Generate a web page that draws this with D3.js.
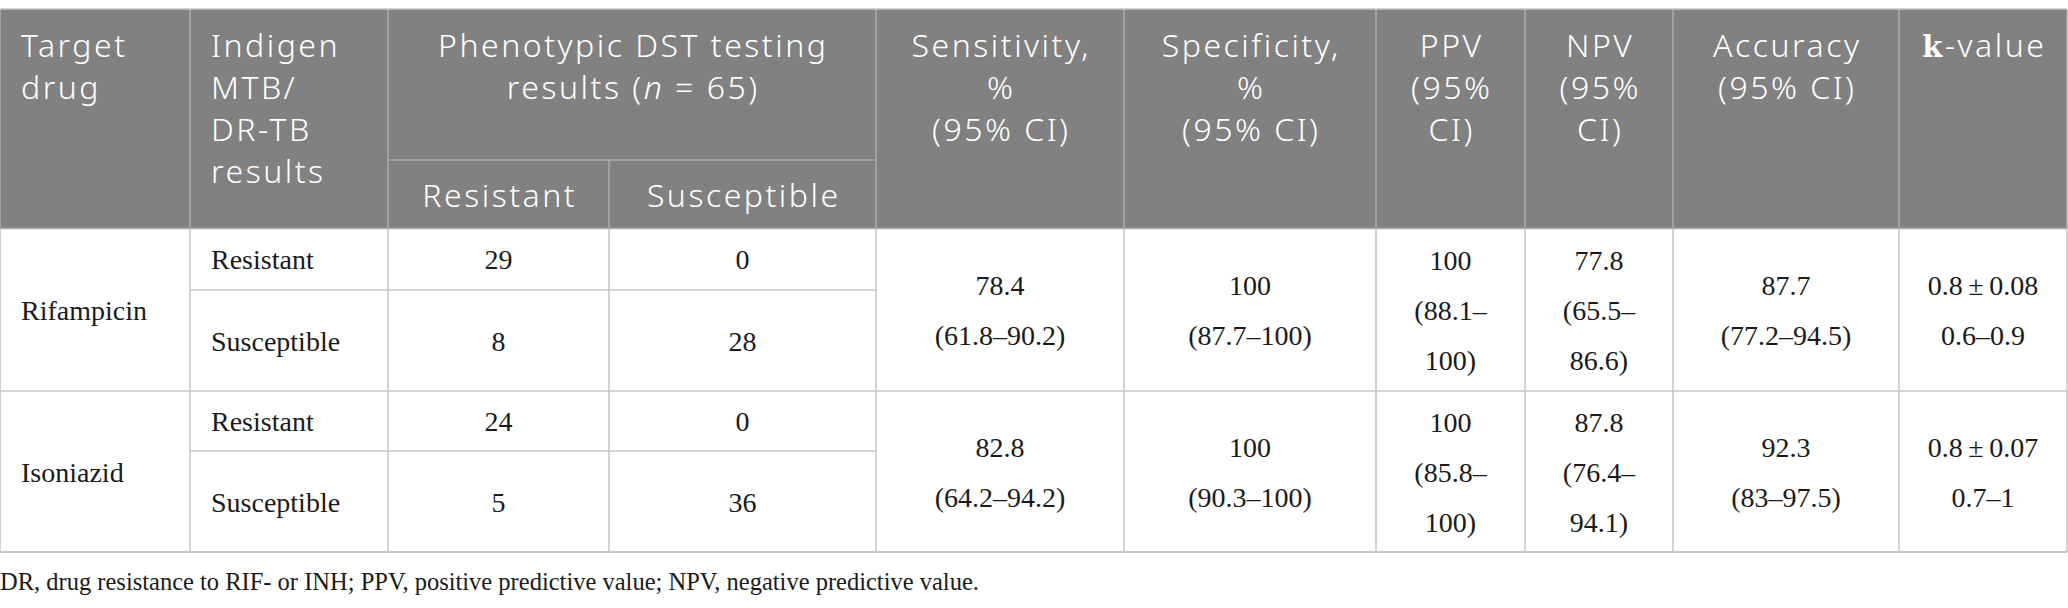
<!DOCTYPE html>
<html>
<head>
<meta charset="utf-8">
<script src="https://cdn.jsdelivr.net/npm/d3@7"></script>
<style>
  html, body { margin: 0; padding: 0; background: #fff; }
  svg { display: block; }
</style>
</head>
<body>
<svg id="chart"></svg>
<script>
// table content
const drugs = ["Rifampicin", "Isoniazid"];
const indigenResults = ["Resistant", "Susceptible"];
const dstResistant = [[29, 8], [24, 5]];
const dstSusceptible = [[0, 28], [0, 36]];
const sensitivity = ["78.4", "82.8"];
const sensitivityCI = ["61.8–90.2", "64.2–94.2"];
const specificity = ["100", "100"];
const specificityCI = ["87.7–100", "90.3–100"];
const ppv = ["100", "100"];
const ppvCI = ["88.1–100", "85.8–100"];
const npv = ["77.8", "87.8"];
const npvCI = ["65.5–86.6", "76.4–94.1"];
const accuracy = ["87.7", "92.3"];
const accuracyCI = ["77.2–94.5", "83–97.5"];
const kappa = ["0.8", "0.8"];
const kappaSD = ["0.08", "0.07"];
const kappaCI = ["0.6–0.9", "0.7–1"];

const headerLines = [
  ["Target", "drug"],
  ["Indigen", "MTB/", "DR-TB", "results"],
  null, // phenotypic spans two columns
  null,
  ["Sensitivity,", "%", "(95% CI)"],
  ["Specificity,", "%", "(95% CI)"],
  ["PPV", "(95%", "CI)"],
  ["NPV", "(95%", "CI)"],
  ["Accuracy", "(95% CI)"],
  ["k-value"]
];
const subHeaders = ["Resistant", "Susceptible"];
const footnote = "DR, drug resistance to RIF- or INH; PPV, positive predictive value; NPV, negative predictive value.";

// layout
const W = 2068, H = 608;
const colEdges = [0, 190, 388, 609, 876, 1124, 1376, 1525, 1673, 1899, 2067];
const headTop = 9, subLine = 160, headBottom = 228.5;
const rowEdges = [headBottom, 290, 391, 451, 552]; // sub-rows
const headFill = "#808180";
const headLine = "#adadad";
const bodyLine = "#c6c6c6";
const sans = "'Noto Sans', 'Open Sans', sans-serif";
const serif = "'Liberation Serif', 'Times New Roman', serif";
const track = 2.5; // header letter spacing

const svg = d3.select("#chart").attr("width", W).attr("height", H);
svg.append("rect").attr("width", W).attr("height", H).attr("fill", "#fff");

const cx = i => (colEdges[i] + colEdges[i + 1]) / 2;

// header background
svg.append("rect")
  .attr("x", colEdges[0]).attr("y", headTop)
  .attr("width", colEdges[10] - colEdges[0])
  .attr("height", headBottom - headTop)
  .attr("fill", headFill);

// header text
const hdr = svg.append("g")
  .attr("fill", "#fff")
  .style("font-family", sans)
  .style("font-weight", 300)
  .style("font-size", "32px")
  .style("letter-spacing", `${track}px`);

const lineH = 42, firstBase = 57;
headerLines.forEach((lines, i) => {
  if (!lines) return;
  const left = i < 2;
  const x = left ? colEdges[i] + 21 : cx(i) + track / 2;
  const t = hdr.append("text")
    .attr("text-anchor", left ? "start" : "middle")
    .attr("x", x);
  t.selectAll("tspan")
    .data(lines)
    .join("tspan")
    .attr("x", x)
    .attr("y", (d, j) => firstBase + j * lineH)
    .each(function (d) {
      const ts = d3.select(this);
      if (d === "k-value") {
        ts.append("tspan")
          .style("font-family", "'DejaVu Serif', serif")
          .style("font-weight", "bold")
          .style("font-size", "29px")
          .text("k");
        ts.append("tspan").text("-value");
      } else {
        ts.text(d);
      }
    });
});

// phenotypic spanning header
const phx = (colEdges[2] + colEdges[4]) / 2 + track / 2;
const ph = hdr.append("text").attr("text-anchor", "middle");
ph.append("tspan").attr("x", phx).attr("y", firstBase)
  .text("Phenotypic DST testing");
const ph2 = ph.append("tspan").attr("x", phx).attr("y", firstBase + lineH);
ph2.append("tspan").text("results (");
ph2.append("tspan").style("font-style", "italic").text("n");
ph2.append("tspan").text(" = 65)");

hdr.selectAll(".sub")
  .data(subHeaders)
  .join("text")
  .attr("class", "sub")
  .attr("text-anchor", "middle")
  .attr("x", (d, i) => cx(2 + i) + track / 2)
  .attr("y", 207)
  .text(d => d);

// grid lines
const grid = svg.append("g").attr("fill", "none").attr("stroke-width", 1.5);
// header verticals
colEdges.forEach((x, i) => {
  grid.append("line").attr("x1", x).attr("x2", x)
    .attr("y1", i === 3 ? subLine : headTop).attr("y2", headBottom)
    .attr("stroke", headLine);
});
grid.append("line").attr("x1", colEdges[2]).attr("x2", colEdges[4])
  .attr("y1", subLine).attr("y2", subLine).attr("stroke", headLine);
grid.append("line").attr("x1", 0).attr("x2", colEdges[10])
  .attr("y1", headTop).attr("y2", headTop).attr("stroke", bodyLine);
// body verticals
colEdges.forEach(x => {
  grid.append("line").attr("x1", x).attr("x2", x)
    .attr("y1", headBottom).attr("y2", rowEdges[4]).attr("stroke", bodyLine);
});
// body horizontals
rowEdges.forEach((y, r) => {
  const partial = r === 1 || r === 3;
  grid.append("line")
    .attr("x1", partial ? colEdges[1] : 0)
    .attr("x2", partial ? colEdges[4] : colEdges[10])
    .attr("y1", y).attr("y2", y)
    .attr("stroke", r === 0 ? headLine : bodyLine)
    .attr("stroke-width", r === 4 ? 2 : 1.5);
});

// body text
const body = svg.append("g")
  .attr("fill", "#1a1a1a")
  .style("font-family", serif)
  .style("font-size", "28px");

const bLine = 50, baseOff = 10;

drugs.forEach((drug, g) => {
  const top = rowEdges[g * 2], mid = rowEdges[g * 2 + 1], bot = rowEdges[g * 2 + 2];
  const groupMid = (top + bot) / 2;
  const subMids = [(top + mid) / 2, (mid + bot) / 2];

  body.append("text").attr("x", colEdges[0] + 21).attr("y", groupMid + baseOff).text(drug);

  indigenResults.forEach((res, s) => {
    body.append("text").attr("x", colEdges[1] + 21).attr("y", subMids[s] + baseOff).text(res);
    body.append("text").attr("text-anchor", "middle")
      .attr("x", cx(2)).attr("y", subMids[s] + baseOff).text(dstResistant[g][s]);
    body.append("text").attr("text-anchor", "middle")
      .attr("x", cx(3)).attr("y", subMids[s] + baseOff).text(dstSusceptible[g][s]);
  });

  const ciLines = (v, ci, wrap) => {
    if (!wrap) return [v, `(${ci})`];
    const k = ci.indexOf("–");
    return [v, `(${ci.slice(0, k + 1)}`, `${ci.slice(k + 1)})`];
  };
  const merged = [
    ciLines(sensitivity[g], sensitivityCI[g], false),
    ciLines(specificity[g], specificityCI[g], false),
    ciLines(ppv[g], ppvCI[g], true),
    ciLines(npv[g], npvCI[g], true),
    ciLines(accuracy[g], accuracyCI[g], false),
    [`${kappa[g]}\u2009±\u2009${kappaSD[g]}`, kappaCI[g]]
  ];
  merged.forEach((lines, m) => {
    const col = 4 + m;
    const y0 = groupMid + baseOff - (lines.length - 1) * bLine / 2;
    body.append("text").attr("text-anchor", "middle")
      .selectAll("tspan")
      .data(lines)
      .join("tspan")
      .attr("x", cx(col))
      .attr("y", (d, j) => y0 + j * bLine)
      .text(d => d);
  });
});

// footnote
svg.append("text")
  .attr("x", 0).attr("y", 590)
  .attr("fill", "#1a1a1a")
  .style("font-family", serif)
  .style("font-size", "24.5px")
  .text(footnote);
</script>
</body>
</html>
